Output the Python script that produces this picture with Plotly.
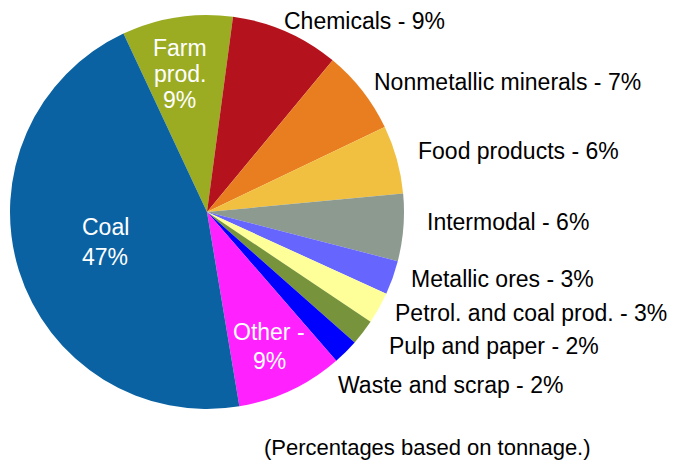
import plotly.graph_objects as go

# page is offset by the default 8px body margin
OFF = 8
W, H = 676 - OFF, 462 - OFF

categories = ["Farm prod.", "Chemicals", "Nonmetallic minerals", "Food products",
              "Intermodal", "Metallic ores", "Petrol. and coal prod.",
              "Pulp and paper", "Waste and scrap", "Other", "Coal"]
shares = [9.08, 8.9, 6.9, 5.6, 5.5, 2.8, 2.6, 2.1, 2.1, 8.76, 45.65]
label_pct = ["9%", "9%", "7%", "6%", "6%", "3%", "3%", "2%", "2%", "9%", "47%"]
colors = ["#9BAC23", "#B4131E", "#E87E1F", "#F1C040", "#8C9A90", "#6666FF",
          "#FFFF99", "#77933C", "#0000FF", "#FF22FF", "#0A62A2"]


def px(x, y):
    return (x - OFF) / W, 1 - (y - OFF) / H


dx0, dy1 = px(10, 15)
dx1, dy0 = px(404, 409)

fig = go.Figure(go.Pie(
    labels=categories, values=shares, sort=False, direction="clockwise",
    rotation=-25.1, marker=dict(colors=colors, line=dict(width=0)),
    textinfo="none", hoverinfo="label+percent", showlegend=False,
    domain=dict(x=[dx0, dx1], y=[dy0, dy1]),
))

FONT = "Liberation Sans, Arial, sans-serif"

annots = []
outside_pos = {
    "Chemicals": (282, 21),
    "Nonmetallic minerals": (372, 82),
    "Food products": (416, 151),
    "Intermodal": (425, 222),
    "Metallic ores": (409, 279),
    "Petrol. and coal prod.": (393, 313),
    "Pulp and paper": (387, 346),
    "Waste and scrap": (336, 385),
}
for cat, pct in zip(categories, label_pct):
    if cat in outside_pos:
        x, y = px(*outside_pos[cat])
        annots.append(dict(x=x, y=y, xref="paper", yref="paper", xanchor="left",
                           yanchor="middle", showarrow=False,
                           text=f"{cat} - {pct}",
                           font=dict(family=FONT, size=23, color="black")))

inside_lines = [
    ("Farm", 180, 48), ("prod.", 180, 74), ("9%", 180, 100),
    ("Coal", 105, 227), ("47%", 105, 257),
    ("Other -", 269, 332), ("9%", 269, 361),
]
for t, x0, y0 in inside_lines:
    x, y = px(x0, y0)
    annots.append(dict(x=x, y=y, xref="paper", yref="paper", xanchor="center",
                       yanchor="middle", showarrow=False, text=t,
                       font=dict(family=FONT, size=23, color="white")))

x, _ = px(427.5, 451)
annots.append(dict(x=x, y=0, xref="paper", yref="paper", xanchor="center",
                   yanchor="bottom", showarrow=False,
                   text="(Percentages based on tonnage.)",
                   font=dict(family=FONT, size=22, color="black")))

fig.update_layout(width=W, height=H, margin=dict(l=0, r=0, t=0, b=0),
                  paper_bgcolor="white", plot_bgcolor="white",
                  annotations=annots)

fig.write_html("out.html")
